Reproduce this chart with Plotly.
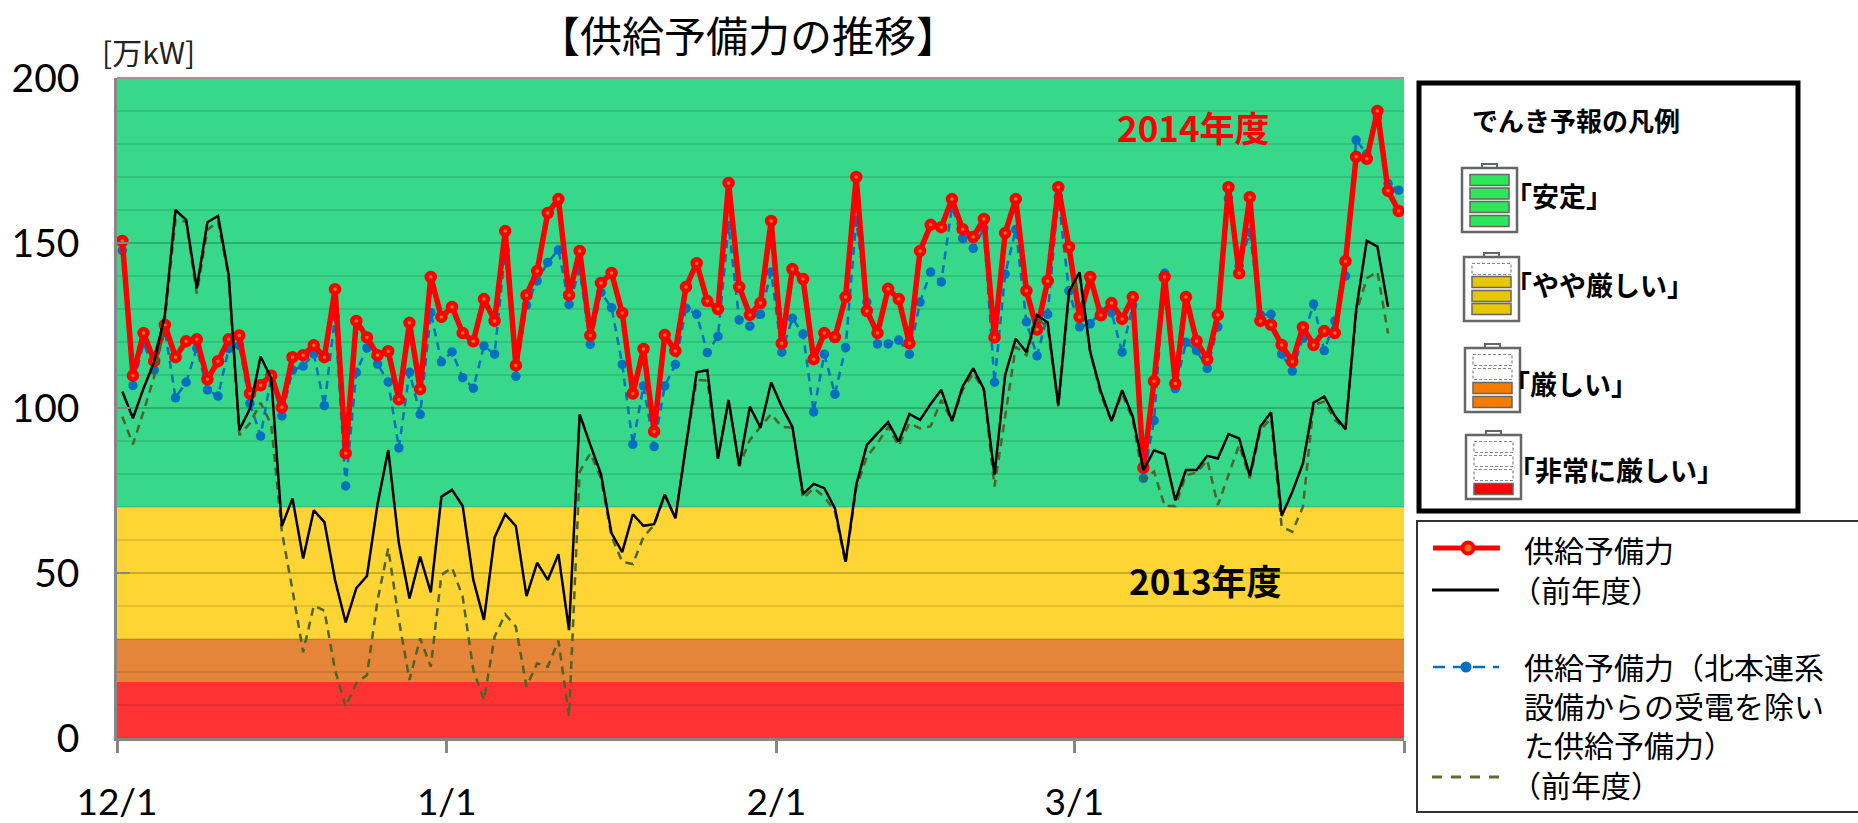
import pandas as pd
import plotly.graph_objects as go

dates = pd.date_range("2014-12-01", "2015-03-31").strftime("%Y-%m-%d").tolist()

supply_2014 = [150.6,109.8,122.7,114.2,125.2,115.4,120.2,120.8,108.7,114.2,120.8,122,104.4,106.9,109.8,100.2,115.4,116,119,115.4,
 136,86.3,126.4,121.4,116,117.2,102.6,125.8,105.7,139.7,127.6,130.6,122.7,120.2,133,126.4,153.6,112.9,134.2,141.5,
 159.1,163.3,134.2,147.6,122,137.9,140.9,128.8,104.4,117.9,92.9,122.1,117.3,136.7,143.9,132.4,130,168.2,136.7,128.2,
 131.8,156.7,119.6,142.1,139.1,114.8,122.7,121.5,133.6,170,129.4,122.7,136.1,133,119.6,147.6,155.5,154.8,163.3,154.2,
 151.8,157.3,121.4,153,163.3,135.5,123.8,138.5,166.9,148.8,127.6,139.7,128.1,131.8,127,133.6,81.9,108.1,139.7,107.4,
 133.6,120.3,114.7,128.2,166.9,140.8,163.9,126.4,125.2,119.1,114.1,124.5,119.1,123.3,122.7,144.5,176.1,175.5,190,165.8,159.7]

supply_2014_excl = [147.7,106.8,119.6,111.5,123.6,103.1,107.8,118.1,105.5,103.6,118,119,101.4,91.5,109.5,97.6,111.5,112.7,116.4,100.7,
 127.7,76.4,110.8,118.2,113.3,107.9,87.9,110.8,98.1,128.9,114,117,109.2,106,118.8,116.3,147.9,109.6,131.2,138.5,
 144.1,147.9,131.4,141.8,119.3,135,130.4,113.2,89,106.7,88.3,106.7,113.2,130.2,128.4,116.8,121.7,155.2,126.7,124.8,
 128.4,141.2,116.9,127.2,122.4,98.8,116.3,104.2,118.3,156.8,132.1,119.4,119.4,120.6,116.3,132.1,141.2,138.2,161,151.4,
 148.4,154.4,107.8,140.6,154.1,126.1,115.8,128.4,164,135.5,124.6,125.5,129.2,128.9,116.9,131.2,78.7,96.2,140.8,105.9,
 119.9,117.4,112,124.6,163.5,143,153.2,128.2,128.4,116.3,111.2,121.1,131.5,117.4,126.4,140,181.2,177,188,168,166]

supply_2013 = [105,96.9,106,114,128.2,160,157,136.3,156.3,158.2,140.3,93.3,99.8,115.6,109,64.2,72.6,54.4,69,65.4,
 47.9,35,45.4,49.1,70.9,87.3,59,42.3,55,44.1,73.1,75.2,70.3,47.9,35.8,60.8,67.8,64.2,43,53.1,
 47.9,55.7,32.7,98.1,88.8,80,62,56.3,67.8,64.3,64.8,73.8,66.6,88.7,110.8,111.5,84.7,102.4,82.4,100.4,
 94,107.8,100.4,94.3,73.9,77,75.7,69.6,53.4,76.7,88.8,92.3,95.7,89.8,98.2,96.4,101.2,105.5,96,106.5,
 112,105.7,79.8,110,121,116.9,128.2,125.9,100.9,135.3,141.1,117,105,96,105.4,97.4,81.2,87.2,86,72,
 81.2,81.2,85.5,84.7,92.1,90.8,79.5,94.4,98.7,67.3,74.6,83.2,101.6,103.5,97.6,93.6,129.7,150.7,148.9,130.7,None]

supply_2013_excl = [97.4,89,99,109.5,126.7,157,156.5,134.7,154,156.5,139.8,91.8,95.4,101.6,95,62.5,44.8,26,40.1,38.6,
 20.6,9.5,16.6,19.1,41.8,57.5,35.8,17.6,30.2,21.6,49.4,51.6,42.8,20.6,11.5,30.7,37.5,33.7,15.6,22.6,
 21.6,29.5,6.5,80.7,86.3,78.7,61,53.4,52.7,61,64.5,73.6,66.6,88.5,108.5,108.3,84.7,102.4,82.4,90.3,
 94.3,98.2,94.3,94.1,72.6,75.7,73.1,68.6,52.9,75.7,85.3,89.3,94.3,88.5,95.4,93.8,94.5,102.4,96,105.5,
 110.5,105.5,76.2,97.4,118.6,116,127,124.6,100.4,133.7,139.8,117,103.9,95.9,104.4,96.4,78.2,80.7,70.3,70.3,
 79.7,80.4,84.2,70.6,79.7,88.8,78.7,93.3,96.9,64,62.5,70.1,101,101.9,96.4,93.5,128.7,139.3,141.3,122.6,None]

band_edges = [0, 17, 30, 70, 200]
band_colors = ["#FF3333", "#E4853A", "#FFD535", "#37D88A"]
y_ticks = [0, 50, 100, 150, 200]
x_tick_dates = ["2014-11-30 12:00", "2014-12-31 12:00", "2015-01-31 12:00", "2015-02-28 12:00", "2015-03-31 12:00"]
x_tick_labels = ["12/1", "1/1", "2/1", "3/1", ""]

CJK = "Noto Sans CJK JP"
L, R, T, B = 117, 1404, 78, 738
def px(x): return (x - L) / (R - L)
def py(y): return (B - y) / (B - T)

fig = go.Figure()
fig.add_trace(go.Scatter(x=dates, y=supply_2014_excl, name="供給予備力(北本連系設備からの受電を除いた供給予備力)", mode="lines+markers",
    line=dict(color="#0070C0", width=2.5, dash="8px,6px"), marker=dict(size=9.5, color="#0070C0")))
fig.add_trace(go.Scatter(x=dates, y=supply_2014, name="供給予備力", mode="lines+markers",
    line=dict(color="#FF0000", width=5.5), marker=dict(size=8, color="#E8780C", line=dict(color="#FF0000", width=4.5))))
fig.add_trace(go.Scatter(x=dates, y=supply_2013_excl, name="(前年度)", mode="lines",
    line=dict(color="#4F6228", width=2.5, dash="8px,6px")))
fig.add_trace(go.Scatter(x=dates, y=supply_2013, name="(前年度)", mode="lines", line=dict(color="#000000", width=2.5)))

shapes, ann = [], []

for i, c in enumerate(band_colors):
    shapes.append(dict(type="rect", xref="paper", yref="y", x0=0, x1=1, y0=band_edges[i], y1=band_edges[i + 1],
                       fillcolor=c, line_width=0, layer="below"))
shapes.append(dict(type="line", xref="paper", yref="paper", x0=0, x1=1, y0=1, y1=1, line=dict(color="#999999", width=2)))

def rect(x0, y0, x1, y1, fill="rgba(0,0,0,0)", color="#000", width=1, dash="solid"):
    shapes.append(dict(type="rect", xref="paper", yref="paper", x0=px(x0), x1=px(x1), y0=py(y0), y1=py(y1),
                       fillcolor=fill, line=dict(color=color, width=width, dash=dash)))

def hline(x0, x1, y, color, width, dash="solid"):
    shapes.append(dict(type="line", xref="paper", yref="paper", x0=px(x0), x1=px(x1), y0=py(y), y1=py(y),
                       line=dict(color=color, width=width, dash=dash)))

def circle(cx, cy, r, fill, color=None, width=0):
    shapes.append(dict(type="circle", xref="paper", yref="paper", x0=px(cx - r), x1=px(cx + r), y0=py(cy - r), y1=py(cy + r),
                       fillcolor=fill, line=dict(color=color or fill, width=width)))

def text(s, x, y, size, color="#000", anchor="left", family=CJK):
    ann.append(dict(text=s, xref="paper", yref="paper", x=px(x), y=py(y), xanchor=anchor, yanchor="middle", showarrow=False,
                    font=dict(family=family, size=size, color=color), align="left", borderpad=0))

# titles
text("【供給予備力の推移】", 748, 33, 42, anchor="center")
text("[万kW]", 101, 51, 30, color="#222")
text("<b>2014年度</b>", 1193, 127, 35, color="#FF0000", anchor="center")
text("<b>2013年度</b>", 1205, 579, 35, anchor="center")

# forecast legend panel
rect(1419, 83, 1798, 511, fill="#FFFFFF", color="#000000", width=5)
text("<b>でんき予報の凡例</b>", 1576, 120, 26, anchor="center")

def battery(x0, y0, fills, cell_ys):
    gray = "#666666"
    rect(x0 + 20, y0, x0 + 35, y0 + 5, fill="#FFFFFF", color=gray, width=2)
    rect(x0, y0 + 4, x0 + 55, y0 + 68, fill="#FFFFFF", color=gray, width=2.5)
    for cy, f in zip(cell_ys, fills):
        if f:
            rect(x0 + 8, cy - 5.5, x0 + 47, cy + 5.5, fill=f, color=gray, width=1.5)
        else:
            rect(x0 + 8, cy - 5.5, x0 + 47, cy + 5.5, fill="#FFFFFF", color="#888888", width=1.2, dash="3px,2px")

GREEN, YEL, ORG, RED = "#2BE85B", "#E6C700", "#F47C00", "#FF0000"
battery(1462, 164, [GREEN] * 4, [180, 193.5, 207, 221])
battery(1464, 253, [None, YEL, YEL, YEL], [269, 282, 296, 309])
battery(1465, 344, [None, None, ORG, ORG], [360, 374, 388, 402])
battery(1466, 431, [None, None, None, RED], [447, 461, 475, 489])
text("<b>「安定」</b>", 1559, 195, 27, anchor="center")
text("<b>「やや厳しい」</b>", 1599, 284, 27, anchor="center")
text("<b>「厳しい」</b>", 1570, 383, 27, anchor="center")
text("<b>「非常に厳しい」</b>", 1616, 469, 27, anchor="center")

# series legend panel
rect(1417, 521, 1870, 812, fill="#FFFFFF", color="#333333", width=2)
hline(1433, 1500, 548, "#FF0000", 5)
circle(1468, 548, 5.5, "#E8780C", "#FF0000", 4)
hline(1432, 1499, 590, "#000000", 3)
hline(1433, 1499, 667, "#0070C0", 2.5, "12px,8px")
circle(1466, 667, 5.5, "#0070C0")
hline(1432, 1499, 777, "#5B7030", 3, "10px,9px")
text("供給予備力", 1523, 549, 30)
text("（前年度）", 1510, 589, 30)
text("供給予備力（北本連系<br>設備からの受電を除い<br>た供給予備力）", 1523, 705, 30)
text("（前年度）", 1510, 784, 30)

axis_gray = "#868686"
fig.update_layout(
    width=1858, height=823, autosize=False,
    margin=dict(l=L, r=1858 - R, t=T, b=823 - B, pad=0),
    paper_bgcolor="#FFFFFF", plot_bgcolor="#FFFFFF",
    showlegend=False, shapes=shapes, annotations=ann,
    font=dict(family="Noto Sans", color="#000"),
    xaxis=dict(type="date", automargin=False, range=[x_tick_dates[0], x_tick_dates[-1]], tickmode="array",
               tickvals=x_tick_dates, ticktext=x_tick_labels, showgrid=False, ticks="outside", ticklen=12,
               tickwidth=2.5, tickcolor=axis_gray, showline=True, linecolor=axis_gray, linewidth=2.5,
               tickfont=dict(family="Lato", size=37, color="#000"), ticklabelstandoff=18, tickangle=0),
    yaxis=dict(range=[0, 200], automargin=False, tickmode="array", tickvals=y_ticks, ticks="inside", ticklen=13, tickwidth=2,
               tickcolor=axis_gray, showline=True, linecolor=axis_gray, linewidth=2.5, zeroline=False,
               gridcolor="rgba(0,0,0,0.1)", gridwidth=1.5,
               minor=dict(dtick=10, tick0=0, showgrid=True, gridcolor="rgba(0,0,0,0.1)", gridwidth=1.5, ticks=""),
               tickfont=dict(family="Lato", size=39, color="#000"), ticklabelstandoff=27),
)

fig.write_html("out.html", config=dict(displayModeBar=False),
               post_script="document.body.style.margin='0';document.body.style.overflow='hidden';")
